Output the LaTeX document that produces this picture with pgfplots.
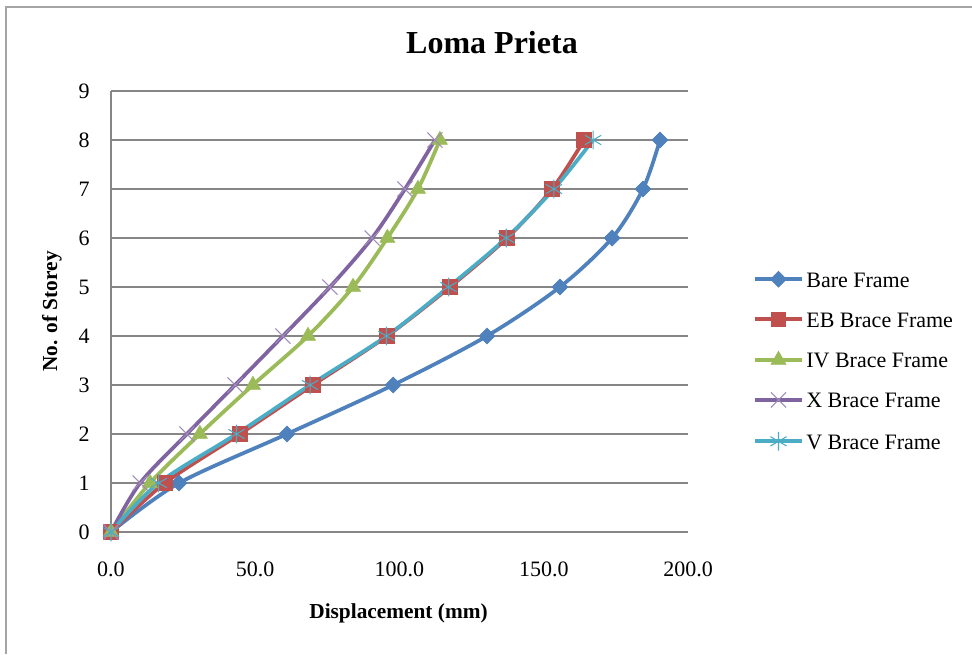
\documentclass[border=0pt]{standalone}
\usepackage{pgfplots}
\pgfplotsset{compat=1.18}
\usepackage{fontspec}
\setmainfont{Liberation Serif}

\definecolor{cBare}{HTML}{4F81BD}
\definecolor{cEB}{HTML}{C0504D}
\definecolor{cIV}{HTML}{9BBB59}
\definecolor{cX}{HTML}{8064A2}
\definecolor{cV}{HTML}{4BACC6}
\definecolor{gridgray}{RGB}{134,134,134}
\definecolor{framegray}{RGB}{165,165,165}

% storey displacement profiles (mm)
\pgfplotstableread{
x y
0 0
23.6 1
61.0 2
97.8 3
130.3 4
155.6 5
173.7 6
184.4 7
190.3 8
}\bare
\pgfplotstableread{
x y
0 0
18.7 1
44.7 2
70.0 3
95.7 4
117.5 5
137.3 6
152.9 7
164.0 8
}\ebbrace
\pgfplotstableread{
x y
0 0
13.5 1
30.8 2
49.2 3
68.3 4
83.9 5
95.8 6
106.4 7
114.0 8
}\ivbrace
\pgfplotstableread{
x y
0 0
10.1 1
26.3 2
43.0 3
59.6 4
75.9 5
90.5 6
101.9 7
112.3 8
}\xbrace
\pgfplotstableread{
x y
0 0
16.5 1
43.5 2
69.0 3
95.5 4
117.0 5
137.0 6
153.5 7
167.1 8
}\vbrace

\begin{document}
\begin{tikzpicture}
\useasboundingbox (-83.25pt,-91.5pt) rectangle (645.75pt,399pt);
\draw[framegray, line width=1.2pt] (-78.75pt,-91.5pt) -- (-78.75pt,393.75pt) -- (645.75pt,393.75pt);
\begin{axis}[
  at={(0pt,0pt)}, anchor=south west,
  scale only axis,
  width=432.75pt, height=330.75pt,
  xmin=0, xmax=200, ymin=0, ymax=9,
  xtick={0,50,...,200}, ytick={0,1,...,9},
  axis x line*=bottom, axis y line*=left,
  axis line style={gridgray, line width=1.2pt},
  ymajorgrids, grid style={gridgray, line width=1.2pt},
  major tick length=0pt,
  /pgf/number format/assume math mode=true,
  xticklabel={\pgfmathprintnumber[fixed,fixed zerofill,precision=1]{\tick}},
  xticklabel style={font=\fontsize{16.5}{20}\selectfont, inner sep=0pt, anchor=north, yshift=-22.5pt},
  yticklabel style={font=\fontsize{16.5}{20}\selectfont, inner sep=0pt, anchor=east, xshift=-15.75pt},
  title={Loma Prieta},
  title style={font=\bfseries\fontsize{24}{28}\selectfont, at={(axis description cs:0.6603,1.0907)}, anchor=center, inner sep=0pt},
  xlabel={Displacement (mm)},
  xlabel style={font=\bfseries\fontsize{16}{20}\selectfont, at={(axis description cs:0.4983,-0.1837)}, anchor=center, inner sep=0pt},
  ylabel={No. of Storey},
  ylabel style={font=\bfseries\fontsize{16}{20}\selectfont, at={(axis description cs:-0.1023,0.5)}, anchor=center, rotate=0, inner sep=0pt},
  legend image code/.code={
    \draw[mark repeat=2,mark phase=2,#1] plot coordinates {(0pt,0pt)(17.5pt,0pt)(35pt,0pt)};
  },
  legend cell align=left,
  legend style={
    draw=none, fill=none,
    at={(axis description cs:1.1127,0.3878)}, anchor=west,
    font=\fontsize{16.5}{20}\selectfont,
    inner sep=0pt, row sep=18pt,
    nodes={inner sep=0pt, text height=12pt, text depth=0pt},
    /tikz/every odd column/.style={column sep=2pt},
  },
  every axis plot/.append style={line width=2.8pt, smooth, tension=0.5},
]
\addplot[cBare, mark=square*, mark size=4.2pt, mark options={rotate=45, fill=cBare, draw=cBare, line width=0.5pt}] table {\bare};
\addlegendentry{Bare Frame}
\addplot[cEB, mark=square*, mark size=5.5pt, mark options={fill=cEB, draw=cEB, line width=0.5pt}] table {\ebbrace};
\addlegendentry{EB Brace Frame}
\addplot[cIV, mark=triangle*, mark size=6.5pt, mark options={fill=cIV, draw=cIV, line width=0.5pt}] table {\ivbrace};
\addlegendentry{IV Brace Frame}
\addplot[cX, mark=x, mark size=8pt, mark options={draw=cX!75, line width=0.8pt}] table {\xbrace};
\addlegendentry{X Brace Frame}
\addplot[cV, mark=asterisk, mark size=7pt, mark options={draw=cV, line width=0.8pt}] table {\vbrace};
\addlegendentry{V Brace Frame}
\end{axis}
\end{tikzpicture}
\end{document}
